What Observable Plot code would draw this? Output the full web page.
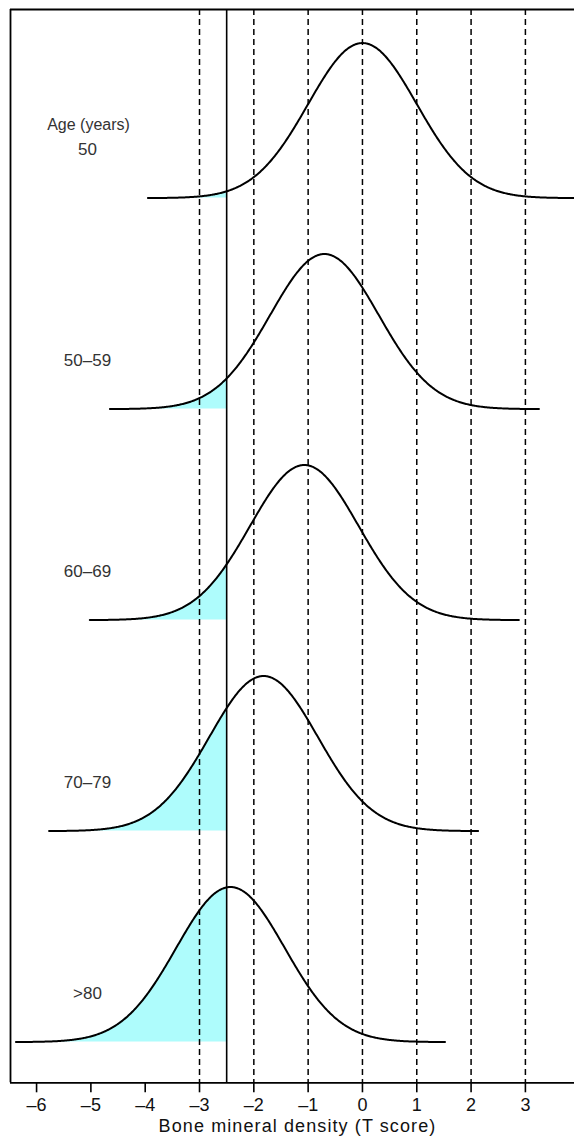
<!DOCTYPE html>
<html>
<head>
<meta charset="utf-8">
<script src="https://cdn.jsdelivr.net/npm/d3@7"></script>
<script src="https://cdn.jsdelivr.net/npm/@observablehq/plot@0.6"></script>
<style>
  html, body { margin: 0; padding: 0; background: #fff; }
  svg { display: block; }
</style>
</head>
<body>
<div id="chart"></div>
<script>
// ---- Data ----
const ageGroups = ["50", "50–59", "60–69", "70–79", ">80"];
const meanTScore = [0, -0.70, -1.07, -1.82, -2.43];   // mean T score per age group
const sdTScore = [1, 1, 1, 1, 1];                      // spread (SD units)
const tickValues = [-6, -5, -4, -3, -2, -1, 0, 1, 2, 3];
const referenceLines = [-3, -2, -1, 0, 1, 2, 3];
const osteoporosisThreshold = -2.5;
const ageHeader = "Age (years)";
const xTitle = "Bone mineral density (T score)";

// ---- Layout (row units: each age group is one row) ----
const curveHalfRange = 3.95;   // curves drawn over mean ± 3.95 SD
const peakHeight = 0.735;      // curve height relative to row spacing
const labelRise = 0.232;       // label position above each row baseline
const xDomain = [-6.48, 3.904];
const yDomain = [-4.193, 0.894];

const curves = [];
const fills = [];
ageGroups.forEach((g, i) => {
  const base = -i, m = meanTScore[i], s = sdTScore[i];
  const n = 500;
  const x0 = m - curveHalfRange * s, x1 = m + curveHalfRange * s;
  const dens = x => base + peakHeight * Math.exp(-0.5 * ((x - m) / s) ** 2);
  for (let k = 0; k <= n; k++) {
    const x = x0 + (x1 - x0) * k / n;
    curves.push({group: g, x, base, y: dens(x)});
    if (x < osteoporosisThreshold) fills.push({group: g, x, base, y: dens(x)});
  }
  fills.push({group: g, x: osteoporosisThreshold, base, y: dens(osteoporosisThreshold)});
});

const labels = ageGroups.map((g, i) => ({text: g, y: -i + labelRise}));

const plot = Plot.plot({
  width: 574,
  height: 1146,
  marginLeft: 10,
  marginRight: 0,
  marginTop: 9,
  marginBottom: 63.7,
  style: {fontFamily: "'Liberation Sans', Arial, sans-serif", fontSize: "18px", color: "#000", background: "#fff"},
  x: {domain: xDomain},
  y: {domain: yDomain, axis: null},
  marks: [
    Plot.areaY(fills, {x: "x", y1: "base", y2: "y", z: "group", fill: "#aefcfc"}),
    Plot.ruleX(referenceLines, {stroke: "#000", strokeWidth: 1.5, strokeDasharray: "6,4"}),
    Plot.ruleX([osteoporosisThreshold], {stroke: "#000", strokeWidth: 1.6}),
    Plot.line(curves, {x: "x", y: "y", z: "group", stroke: "#000", strokeWidth: 2}),
    Plot.text(labels, {frameAnchor: "left", dx: 77, y: "y", text: "text", textAnchor: "middle", fontSize: 17, fill: "#333"}),
    Plot.text([ageHeader], {frameAnchor: "left", dx: 78, y: () => labelRise, dy: -24.5, textAnchor: "middle", fontSize: 16, fill: "#333"}),
    Plot.ruleX([xDomain[0]], {stroke: "#000", strokeWidth: 1.8}),
    Plot.ruleY([yDomain[1]], {stroke: "#000", strokeWidth: 1.8}),
    Plot.ruleY([yDomain[0]], {stroke: "#000", strokeWidth: 1.8}),
    Plot.axisX({
      ticks: tickValues,
      tickFormat: d => d < 0 ? "\u2013" + (-d) : String(d),
      tickSize: 10,
      tickPadding: 5,
      strokeWidth: 1.6,
      fontSize: 18,
      fill: "#111",
      label: null
    }),
    Plot.text([xTitle], {frameAnchor: "bottom", dx: 5, dy: 49, textAnchor: "middle", fontSize: 18, fill: "#111"})
  ]
});

d3.select(plot).selectAll("text").filter(function() { return this.textContent === xTitle; })
  .attr("letter-spacing", "1.1px");

document.getElementById("chart").appendChild(plot);
</script>
</body>
</html>
